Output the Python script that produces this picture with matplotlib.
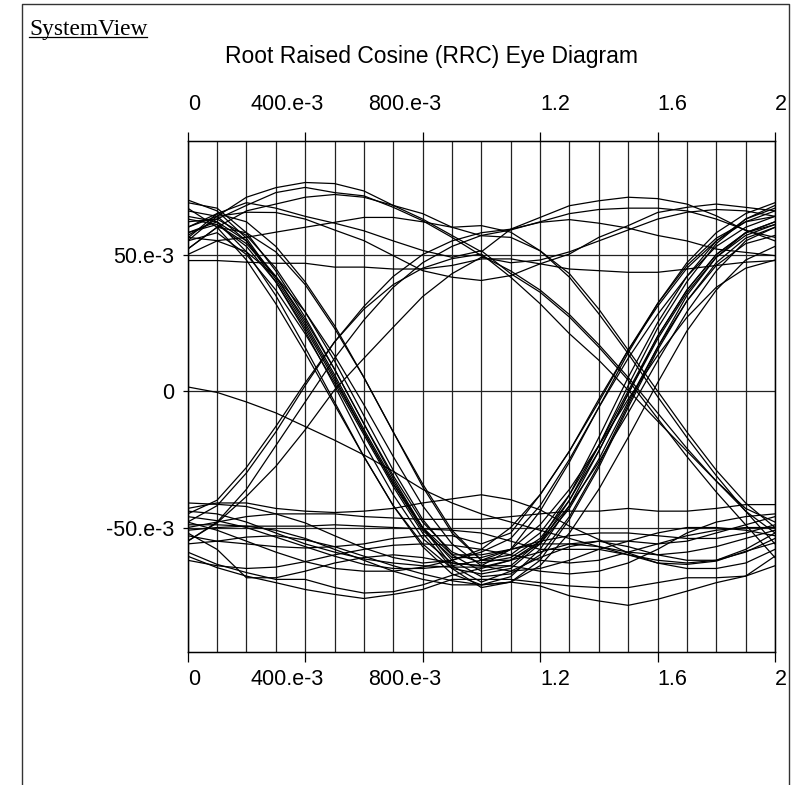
import matplotlib
matplotlib.use("Agg")
import matplotlib.pyplot as plt
from matplotlib.lines import Line2D
from matplotlib.ticker import MultipleLocator
from matplotlib.transforms import ScaledTranslation
import numpy as np

plt.rcParams['font.family'] = ['Liberation Sans', 'DejaVu Sans']

# ----------------------------------------------------------------------
# text + axes
BRAND = "SystemView"
TITLE = "Root Raised Cosine (RRC) Eye Diagram"

x_ticks = [0.0, 0.4, 0.8, 1.2, 1.6, 2.0]
x_tick_labels = ["0", "400.e-3", "800.e-3", "1.2", "1.6", "2"]
y_ticks = [0.05, 0.0, -0.05]
y_tick_labels = ["50.e-3", "0", "-50.e-3"]

# sweep time, 10 samples / symbol, 2 symbols
time_s = [0.0, 0.1, 0.2, 0.3, 0.4, 0.5, 0.6, 0.7, 0.8, 0.9, 1.0,
          1.1, 1.2, 1.3, 1.4, 1.5, 1.6, 1.7, 1.8, 1.9, 2.0]

# ----------------------------------------------------------------------
# traces in mV, grouped by symbol pattern (t=0, t=1, t=2)
pos_pos_pos = [
    [55, 64, 71, 74.5, 76.4, 76, 73.3, 68, 63, 57, 51, 59.3, 63.6, 67.9, 69.7, 71, 70.5, 68.5, 64.2, 58.8, 56.3],
    [60, 64, 65.5, 65.4, 63, 59, 55.1, 49.6, 44.1, 41.7, 40.5, 42.3, 46.6, 50.2, 56.3, 60.6, 65.4, 67.3, 68.5, 67.3, 66],
    [47.8, 47.8, 47.2, 46.8, 46.8, 45.4, 45.4, 44.7, 44.7, 46, 48.4, 48.4, 46.6, 44.7, 44.1, 43.5, 43.5, 44.7, 46, 47.2, 47.8],
]
pos_pos_neg = [
    [57, 63, 68, 72.7, 74.6, 72.7, 71.5, 67.3, 62.4, 56.3, 49.6, 44, 37, 28, 17, 5, -8, -21, -33, -43, -48],
    [52, 60, 66, 68.5, 71, 72, 71, 68, 65, 60, 56.9, 56.3, 51.4, 43, 30, 15, 0, -15, -29, -41, -50],
    [56.3, 55.1, 56.3, 58.2, 60, 61.8, 63.6, 63.6, 62, 60, 60.6, 58.2, 51.4, 41.7, 28.3, 13.7, -2, -17, -31, -44, -56],
    [56, 65, 69, 67, 64, 61.5, 58.7, 55, 51.5, 49, 51.4, 43, 36.2, 27.1, 16.1, 4, -10, -24, -37, -49, -61],
]
neg_pos_pos = [
    [-48, -42, -30, -15, 2, 18, 31, 42, 50, 55, 58, 59.3, 61.8, 62.8, 61.5, 59.7, 57, 55, 52, 50.8, 49.6],
    [-55, -48, -36, -20, -4, 12, 26, 38, 47, 53, 57, 59, 62, 65, 66.5, 67, 67, 66, 63, 59, 55],
    [-55, -48.3, -38.6, -27.6, -14.2, 0.4, 12, 23.4, 34.6, 43, 49, 47, 48, 51, 55, 59, 63, 65.5, 66.5, 66, 64],
]
neg_pos_neg = [
    [-45, -40, -28, -13, 3, 18, 30, 39, 45, 48.5, 50.2, 41.7, 32, 21, 11.3, 0.3, -11, -22, -33, -44, -52],
]
pos_neg_pos = [
    [62, 63, 57, 45, 29, 11, -9, -29, -47, -60, -66, -64, -55, -38, -17, 5, 25, 42, 55, 63, 67],
    [58, 62, 55, 42, 25, 6, -14, -33, -50, -62, -68, -67, -60, -46, -27, -5, 16, 35, 49, 58, 62],
    [66, 64, 55, 40, 22, 2, -19, -38, -54, -63, -64, -58, -44, -26, -6, 14, 32, 47, 58, 65, 69],
    [52, 60, 58, 51, 39, 23, 5, -15, -34, -51, -62, -62, -56, -43, -25, -4, 16, 33, 46, 54, 57],
    [69, 67, 58, 44, 27, 8, -12, -31, -48, -59, -63, -61, -54, -40, -22, -1, 19, 36, 49, 57, 61],
    [64, 62, 51, 35, 16, -4, -24, -42, -56, -65, -67, -65, -56, -40, -20, 2, 23, 40, 54, 63, 68],
    [60, 65, 62, 53, 40, 24, 5, -15, -35, -52, -62, -58, -49, -36, -20, -3, 13, 27, 38, 45, 48],
    [55, 58, 50, 37, 21, 3, -16, -35, -52, -65, -72, -70, -62, -47, -28, -6, 15, 33, 47, 56, 60],
]
pos_neg_neg = [
    [67, 60, 48, 32, 14, -5, -24, -42, -57, -67, -71, -70, -71.4, -75, -76.9, -78.5, -76.3, -73.3, -70.2, -67.8, -60.5],
    [50, 55, 51, 42, 29, 13, -5, -24, -42, -56, -64, -66, -65, -62, -58, -55, -52, -50, -50, -51, -53],
    [63, 61, 53, 40, 23, 4, -15, -34, -51, -61, -61, -58, -56, -56, -57, -60, -63, -65, -65, -63, -58],
    [58, 61, 54, 42, 26, 8, -12, -32, -50, -64, -70, -66, -61, -57, -55, -57, -60, -62, -62, -59, -54],
    [70, 66, 56, 41, 24, 5, -15, -34, -50, -60, -60, -58, -55, -53, -52, -52, -53, -54, -54, -52, -49],
]
neg_neg_pos = [
    [-41, -41.5, -42.3, -45, -48.3, -53, -57.5, -61, -63, -62, -59, -54, -42, -25, -6, 12, 28, 42, 53, 60, 64],
    [-46, -47.5, -50, -53.5, -57, -60.5, -63.5, -65, -65, -64, -62, -60, -52, -38, -20, 0, 20, 37, 50, 58, 62],
    [-48, -51, -55, -59, -62.5, -65, -66, -66, -64.5, -62, -58, -50, -38, -22, -3, 15, 31, 45, 55, 62, 66],
    [-56, -55, -53.5, -53, -54.5, -57, -60.5, -64, -67, -69.5, -71, -70, -64, -52, -36, -17, 3, 22, 37, 48, 53],
    [-44, -45, -48, -52, -56, -59, -61.5, -63, -64, -64.5, -64.5, -62, -55, -42, -26, -8, 11, 29, 44, 55, 60],
    [-51, -50, -49.5, -51, -54, -58, -62, -66, -69, -71, -71, -68, -58, -42, -22, -1, 20, 37, 50, 58, 61],
    [-53, -55, -56, -57, -57.5, -57, -56, -54, -53, -53, -56, -52, -38, -22, -4, 15, 32, 46, 56, 62, 64],
]
neg_neg_neg = [
    [-60.5, -64.7, -67.8, -70.2, -72.7, -74.5, -76, -74.5, -72.7, -69, -69, -69, -70.2, -71.4, -72, -72, -70.2, -68.4, -68.4, -67.8, -64],
    [-59, -63.5, -66.5, -69, -69, -72, -74, -73.5, -71, -67.5, -65, -62, -59, -56, -55, -55, -56, -55, -52, -49, -46],
    [-52, -58, -68.4, -68.4, -66, -63, -61, -60, -61, -63, -64, -64, -66, -67, -66, -63, -58, -52, -48, -46, -45],
    [-43, -41, -41, -43, -44, -44.5, -44, -43, -41, -39.5, -38, -39.8, -43.5, -49.5, -54.4, -59.3, -63, -63.5, -62.3, -58.7, -55.6],
    [-49, -49, -49.5, -49.5, -49.5, -49, -49.5, -50, -50.5, -51, -52, -55, -58, -58, -58, -60, -62, -63, -62, -58, -52],
    [-62, -64, -65, -64.5, -62.5, -60, -58, -56.5, -56, -56.5, -58, -60, -62, -63, -62, -59, -56, -53, -51, -50, -50],
    [-50, -48, -46, -45, -45, -45, -46, -46.5, -47, -47, -47, -46, -45, -44, -44, -43, -44, -44, -43, -41.6, -41.6],
]
# first sweep, filter still filling up
startup = [1.5, -0.5, -4, -8, -13, -18, -23.4, -29.4, -36, -41, -45,
           -48, -51, -54, -57, -59, -60, -59, -57, -54, -51]

groups = [pos_pos_pos, pos_pos_neg, neg_pos_pos, neg_pos_neg,
          pos_neg_pos, pos_neg_neg, neg_neg_pos, neg_neg_neg, [startup]]

# ----------------------------------------------------------------------
W, H = 791, 785
fig = plt.figure(figsize=(W / 100, H / 100), dpi=100)
ax = fig.add_axes([187.7 / W, 1 - 652 / H, (775 - 187.7) / W, (652 - 141) / H])

for grp in groups:
    for tr in grp:
        ax.plot(time_s, np.array(tr) * 1e-3, color="black", lw=0.9, zorder=3)

ax.set_xlim(0, 2)
ax.set_ylim(-0.0956, 0.0916)

ax.set_xticks(x_ticks, x_tick_labels)
ax.set_yticks(y_ticks, y_tick_labels)
ax.xaxis.set_minor_locator(MultipleLocator(0.1))
ax.grid(axis="x", which="both", color="#222222", lw=0.9, zorder=1)
ax.grid(axis="y", which="major", color="#222222", lw=0.9, zorder=1)

ax.tick_params(axis="x", which="major", direction="out", length=7, width=0.9,
               pad=5, labelsize=15.5)
ax.tick_params(axis="x", which="minor", length=0)
ax.tick_params(axis="y", direction="out", length=3.6, width=0.9,
               pad=6, labelsize=15.5)
for sp in ax.spines.values():
    sp.set_linewidth(1.0)

# top axis, same scale
top = ax.twiny()
top.set_xlim(ax.get_xlim())
top.set_xticks(x_ticks, x_tick_labels)
top.tick_params(axis="x", direction="out", length=6.5, width=0.9,
                pad=12, labelsize=15.5)


# SystemView puts plain numbers to the right of the tick,
# the exponent labels end a bit past it
def shift_labels(labels):
    for lab in labels:
        if "e" in lab.get_text():
            lab.set_ha("right")
            lab.set_transform(lab.get_transform() +
                              ScaledTranslation(19 / 100, 0, fig.dpi_scale_trans))
        else:
            lab.set_ha("left")


shift_labels(ax.get_xticklabels())
shift_labels(top.get_xticklabels())

fig.text(431.5 / W, 1 - 63 / H, TITLE, ha="center", va="baseline", fontsize=16.5)
brand = fig.text(29 / W, 1 - 34.5 / H, BRAND, ha="left", va="baseline",
                 family="Liberation Serif", fontsize=16.8)

# underline the brand
fig.canvas.draw()
bb = brand.get_window_extent(fig.canvas.get_renderer())
fig.add_artist(Line2D([bb.x0 / W, bb.x1 / W], [1 - 37 / H, 1 - 37 / H],
                      transform=fig.transFigure, color="black", lw=0.9))

# page frame (open at the bottom)
fig.add_artist(Line2D([22 / W, 22 / W, 789 / W, 789 / W], [0, 1 - 4 / H, 1 - 4 / H, 0],
                      transform=fig.transFigure, color="#333333", lw=1.0))

fig.savefig("out.png", dpi=100)
